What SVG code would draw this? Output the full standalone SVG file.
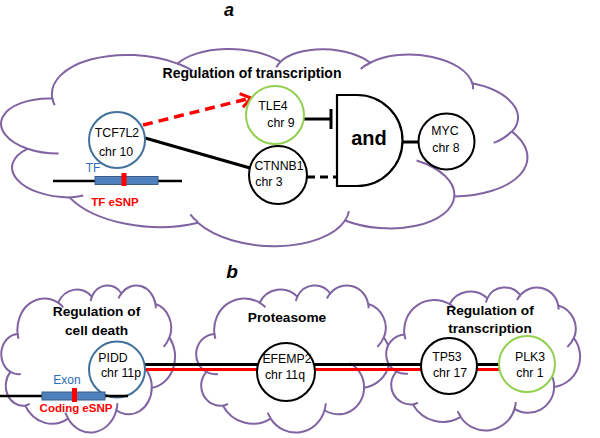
<svg xmlns="http://www.w3.org/2000/svg" width="600" height="438" viewBox="0 0 600 438">
<defs>
<style>
text{font-family:"Liberation Sans",Arial,sans-serif;fill:#000}
.cloud{fill:#fff;stroke:#8064A2;stroke-width:2}
.tick{fill:none;stroke:#8064A2;stroke-width:2}
.lbl{font-size:14px;font-weight:bold;text-anchor:middle}
.lblb{font-size:13.7px;font-weight:bold;text-anchor:middle}
.nt{font-size:12.3px;text-anchor:middle}
.node{fill:#fff;stroke-width:2}
.blk{stroke:#000}
.blu{stroke:#41719C}
.grn{stroke:#92D050}
.ln{fill:none;stroke:#000;stroke-width:3}
.gene{fill:#4F81BD;stroke:#385D8A;stroke-width:1}
.snp{fill:#FF0000}
.red{fill:#FF0000;font-weight:bold;font-size:11.5px;text-anchor:middle}
.bt{fill:#2E6DB4;font-size:12px;text-anchor:middle}
.pl{font-weight:bold;font-style:italic;text-anchor:middle}
</style>
<path id="cl" vector-effect="non-scaling-stroke" d="M3900,14370 A6753,9190 0 0 1 14005,5202 A5333,7267 0 0 1 22455,3431 A4365,5945 0 0 1 29832,2479 A4857,6595 0 0 1 38318,5574 A5333,7273 0 0 1 41818,15458 A6775,9220 0 0 1 37404,30202 A5785,7867 0 0 1 28556,36812 A6752,9215 0 0 1 16481,39264 A7720,10543 0 0 1 5804,35471 A4360,5918 0 0 1 2113,25549 A4345,5945 0 0 1 3900,14370 Z"/>
<path id="ck" vector-effect="non-scaling-stroke" d="M4693,26177 A4345,5945 0 0 1 2113,25549 M6928,34899 A4360,5918 0 0 1 5804,35471 M16478,39090 A6752,9215 0 0 1 15812,37522 M28827,34751 A6752,9215 0 0 1 28556,36812 M34129,22954 A5785,7867 0 0 1 37404,30202 M41798,15354 A5333,7273 0 0 1 40370,18134 M38324,5426 A4857,6595 0 0 1 38394,6838 M29078,3952 A4857,6595 0 0 1 29832,2479 M22141,4720 A4365,5945 0 0 1 22455,3431 M14000,5192 A6753,9190 0 0 1 15305,6551 M4127,15789 A6753,9190 0 0 1 3900,14370"/>
<marker id="arr" markerUnits="userSpaceOnUse" markerWidth="18" markerHeight="18" refX="13" refY="9" orient="auto">
<path d="M3,2 L13,9 L3,16" fill="none" stroke="#FF0000" stroke-width="3"/>
</marker>
</defs>

<g id="clouds">
<g id="cloud-a" transform="rotate(3.5 265 145) translate(2.5 45) scale(0.0121528 0.0046296)">
<use href="#cl" class="cloud"/><use href="#ck" class="tick"/>
</g>
<g id="cloud-b1" transform="translate(2 285) scale(0.0040046 0.0034028)">
<use href="#cl" class="cloud"/><use href="#ck" class="tick"/>
</g>
<g id="cloud-b2" transform="translate(197 285) scale(0.0044676 0.0034028)">
<use href="#cl" class="cloud"/><use href="#ck" class="tick"/>
</g>
<g id="cloud-b3" transform="translate(387 287) scale(0.0044676 0.0033102)">
<use href="#cl" class="cloud"/><use href="#ck" class="tick"/>
</g>
</g>

<text class="pl" x="229" y="16" font-size="18">a</text>
<text class="pl" x="232" y="278" font-size="19">b</text>
<text class="lbl" x="252" y="78">Regulation of transcription</text>
<text class="lblb" x="96.5" y="316">Regulation of</text>
<text class="lblb" x="96.5" y="335">cell death</text>
<text class="lblb" x="287" y="322">Proteasome</text>
<text class="lblb" x="490" y="315">Regulation of</text>
<text class="lblb" x="490" y="333">transcription</text>

<g id="connectors">
<path d="M143,125 L251,98" fill="none" stroke="#FF0000" stroke-width="3.5" stroke-dasharray="10 6" marker-end="url(#arr)"/>
<path class="ln" d="M145,138 L250,168"/>
<path class="ln" d="M304,119 H330" stroke-width="3.5"/>
<path class="ln" d="M331,109 V129" stroke-width="3.5"/>
<path class="ln" d="M307,177 H337" stroke-width="2.5" stroke-dasharray="8 5"/>
<path class="ln" d="M402,142 H418" stroke-width="3.5"/>
<path d="M140,364.5 H505" stroke="#000" stroke-width="3"/>
<path d="M140,369.5 H505" stroke="#FF0000" stroke-width="3"/>
</g>

<g id="TCF7L2">
<circle class="node blu" cx="117" cy="140" r="28"/>
<text class="nt" x="117" y="137">TCF7L2</text>
<text class="nt" x="116" y="156">chr 10</text>
</g>
<g id="TLE4">
<circle class="node grn" cx="275" cy="115" r="29"/>
<text class="nt" x="273" y="110">TLE4</text>
<text class="nt" x="281" y="127">chr 9</text>
</g>
<g id="CTNNB1">
<circle class="node blk" cx="278" cy="175" r="29"/>
<text class="nt" x="279" y="170">CTNNB1</text>
<text class="nt" x="269" y="186">chr 3</text>
</g>
<g id="and">
<path d="M337,95 H357 A45.5,45.5 0 0 1 357,186 H337 Z" fill="#fff" stroke="#000" stroke-width="2.2"/>
<text x="369" y="145" font-size="20" font-weight="bold" text-anchor="middle">and</text>
</g>
<g id="MYC">
<circle class="node blk" cx="446.5" cy="141.5" r="28"/>
<text class="nt" x="445" y="135">MYC</text>
<text class="nt" x="446" y="152">chr 8</text>
</g>

<g id="PIDD">
<circle class="node blu" cx="117" cy="369.5" r="28"/>
<text class="nt" x="113" y="362">PIDD</text>
<text class="nt" x="121" y="377">chr 11p</text>
</g>
<g id="EFEMP2">
<circle class="node blk" cx="286" cy="372" r="29"/>
<text class="nt" x="287" y="363">EFEMP2</text>
<text class="nt" x="285" y="379">chr 11q</text>
</g>
<g id="TP53">
<circle class="node blk" cx="449" cy="366" r="28"/>
<text class="nt" x="447" y="361">TP53</text>
<text class="nt" x="450" y="377">chr 17</text>
</g>
<g id="PLK3">
<circle class="node grn" cx="527" cy="364" r="28"/>
<text class="nt" x="530" y="361">PLK3</text>
<text class="nt" x="530" y="377">chr 1</text>
</g>

<g id="tf-gene">
<path d="M53,181 H182" stroke="#000" stroke-width="2.5"/>
<rect class="gene" x="95" y="176.5" width="63" height="8"/>
<rect class="snp" x="121.5" y="173" width="5" height="13"/>
<text class="bt" x="93" y="172">TF</text>
<text class="red" x="115" y="206">TF eSNP</text>
</g>

<g id="exon-gene">
<path d="M0,396 H128" stroke="#000" stroke-width="2.5"/>
<rect class="gene" x="42" y="392" width="63" height="8"/>
<rect class="snp" x="72" y="388" width="5" height="14"/>
<text class="bt" x="67" y="384">Exon</text>
<text class="red" x="76" y="412">Coding eSNP</text>
</g>
</svg>
